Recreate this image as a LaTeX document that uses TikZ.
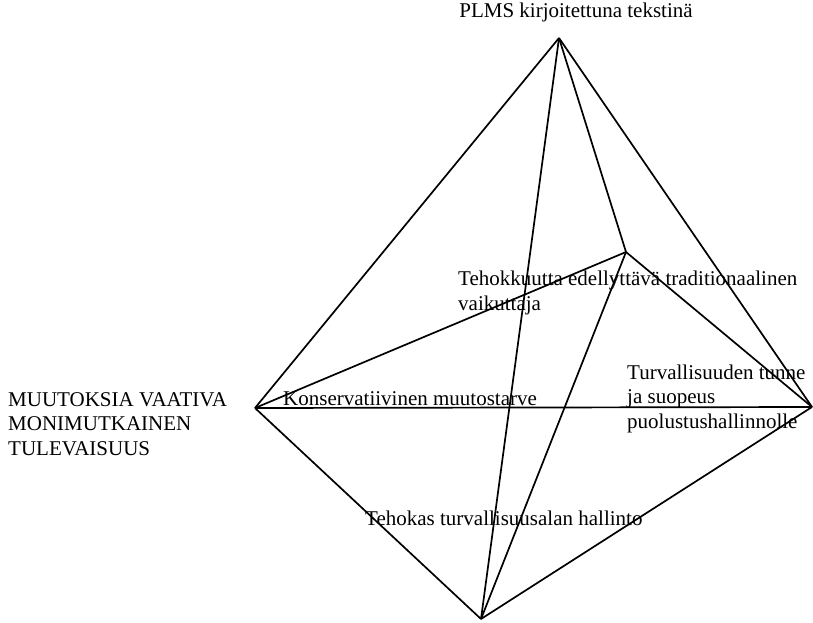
\documentclass[tikz,border=0pt]{standalone}
\usepackage{fontspec}
\setmainfont{Liberation Serif}
\usepackage{tikz}

\begin{document}
\begin{tikzpicture}[x=1pt, y=-1pt,
    edge/.style={line width=1.7pt},
    lbl/.style={inner sep=0pt, align=left, font=\fontsize{21}{24.5}\selectfont}]
    \useasboundingbox (0,0) rectangle (813,623);

    % Corners
    \coordinate (top) at (559, 38);
    \coordinate (inner) at (626, 252);
    \coordinate (left) at (255, 408);
    \coordinate (right) at (812, 407);
    \coordinate (bottom) at (481, 619);

    % Edges
    \draw[edge] (top) -- (left);
    \draw[edge] (top) -- (right);
    \draw[edge] (top) -- (inner);
    \draw[edge] (top) -- (bottom);
    \draw[edge] (inner) -- (left);
    \draw[edge] (inner) -- (right);
    \draw[edge] (inner) -- (bottom);
    \draw[edge] (left) -- (right);
    \draw[edge] (left) -- (bottom);
    \draw[edge] (right) -- (bottom);

    % Labels (base west = baseline of the last line)
    \node[lbl, anchor=base] (plms) at (576, 18) {PLMS kirjoitettuna tekstinä};
    \node[lbl, anchor=base west] (future) at (8, 455) {MUUTOKSIA VAATIVA\\MONIMUTKAINEN\\TULEVAISUUS};
    \node[lbl, anchor=base west] (konserv) at (283, 405) {Konservatiivinen muutostarve};
    \node[lbl, anchor=base west] (trad) at (458, 310) {Tehokkuutta edellyttävä traditionaalinen\\vaikuttaja};
    \node[lbl, anchor=base west] (turva) at (627, 428) {Turvallisuuden tunne\\ja suopeus\\puolustushallinnolle};
    \node[lbl, anchor=base west] (hallinto) at (365, 525) {Tehokas turvallisuusalan hallinto};
\end{tikzpicture}
\end{document}
